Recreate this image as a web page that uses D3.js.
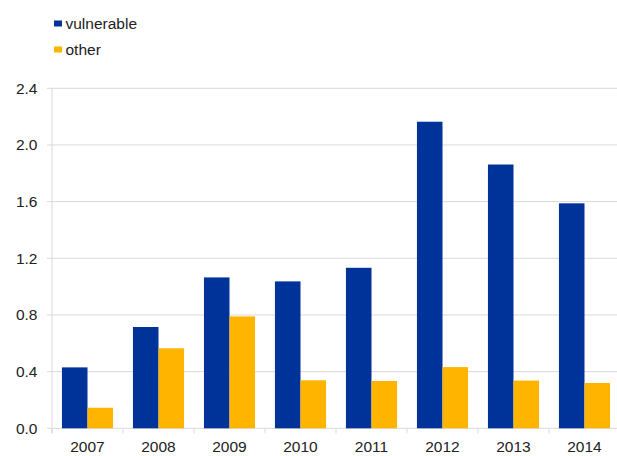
<!DOCTYPE html>
<html><head><meta charset="utf-8">
<script src="https://cdn.jsdelivr.net/npm/d3@7"></script>
<style>body{margin:0;background:#fff}svg{display:block}</style>
</head><body><svg id="c" width="617" height="456"></svg>
<script>
const years = ["2007","2008","2009","2010","2011","2012","2013","2014"];
const vulnerable = [0.43, 0.715, 1.065, 1.037, 1.133, 2.164, 1.862, 1.588];
const other = [0.145, 0.565, 0.79, 0.339, 0.334, 0.432, 0.337, 0.32];
const seriesNames = ["vulnerable", "other"];
const colors = ["#003399", "#FFB400"];
const yTicks = [0, 0.4, 0.8, 1.2, 1.6, 2.0, 2.4];

(function () {
const svg = d3.select("#c");
const font = "'Liberation Sans', Arial, sans-serif";
const fs = 15.5;
const pLeft = 52, pRight = 620, pTop = 88.3, pBottom = 428.3;

const x = d3.scaleBand().domain(years).range([pLeft, pRight]).paddingInner(0.28).paddingOuter(0.14);
const x1 = d3.scaleBand().domain(seriesNames).range([0, x.bandwidth()]);
const y = d3.scaleLinear().domain([0, 2.4]).range([pBottom, pTop]);

// gridlines
svg.append("g").selectAll("line").data(yTicks).join("line")
  .attr("x1", pLeft - 5).attr("x2", 617)
  .attr("y1", d => y(d)).attr("y2", d => y(d))
  .attr("stroke", "#d9d9d9").attr("stroke-width", 1);

// y axis line
svg.append("line").attr("x1", pLeft).attr("x2", pLeft).attr("y1", pTop).attr("y2", pBottom + 5)
  .attr("stroke", "#d9d9d9");

// x ticks at band boundaries
const step = x.step();
const boundaries = d3.range(years.length + 1).map(i => pLeft + i * step);
svg.append("g").selectAll("line").data(boundaries).join("line")
  .attr("x1", d => d).attr("x2", d => d).attr("y1", pBottom).attr("y2", pBottom + 5)
  .attr("stroke", "#d9d9d9");

// y labels
svg.append("g").selectAll("text").data(yTicks).join("text")
  .attr("x", 37.5).attr("y", d => y(d) + 5.5)
  .attr("text-anchor", "end").attr("font-family", font).attr("font-size", fs).attr("fill", "#222")
  .text(d => d3.format(".1f")(d));

// x labels
svg.append("g").selectAll("text").data(years).join("text")
  .attr("x", (d, i) => pLeft + i * step + step / 2).attr("y", 452)
  .attr("text-anchor", "middle").attr("font-family", font).attr("font-size", fs).attr("fill", "#222")
  .text(d => d);

// bars
const data = [vulnerable, other];
seriesNames.forEach((s, si) => {
  svg.append("g").selectAll("rect").data(years).join("rect")
    .attr("x", d => x(d) + x1(s))
    .attr("y", (d, i) => y(data[si][i]))
    .attr("width", x1.bandwidth())
    .attr("height", (d, i) => y(0) - y(data[si][i]))
    .attr("fill", colors[si]);
});

// legend
const lg = svg.append("g");
seriesNames.forEach((s, i) => {
  lg.append("rect").attr("x", 54).attr("y", 20.5 + i * 26).attr("width", 8).attr("height", 6).attr("fill", colors[i]);
  lg.append("text").attr("x", 65.5).attr("y", 28.5 + i * 26).attr("font-family", font).attr("font-size", fs).attr("fill", "#222").text(s);
});
})();
</script></body></html>
